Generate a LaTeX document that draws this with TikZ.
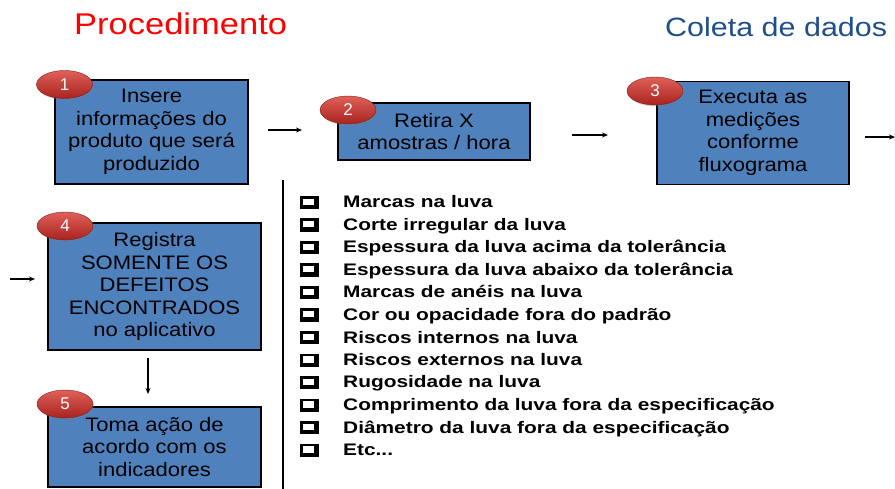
\documentclass[tikz,border=0pt]{standalone}
\usepackage{fontspec}
\setmainfont{Liberation Sans}
\newfontfamily\boxfont[FakeStretch=1.13]{Liberation Sans}
\newfontfamily\listfont[FakeStretch=1.25]{Liberation Sans Bold}
\newfontfamily\titlefont[FakeStretch=1.15]{Liberation Sans}
\usetikzlibrary{shapes.geometric,arrows.meta,shadows}
\definecolor{boxblue}{HTML}{4F81BD}
\definecolor{titleblue}{HTML}{1F4E8C}
\definecolor{badgetop}{HTML}{E0605A}
\definecolor{badgebot}{HTML}{A8231E}
\begin{document}
\begin{tikzpicture}[x=1pt,y=-1pt,
 stepbox/.style={draw=black, line width=1.5pt, fill=boxblue, align=center, inner sep=0pt, font=\boxfont\fontsize{19.5}{22.5}\selectfont},
 badge/.style={ellipse, minimum width=56pt, minimum height=28pt, inner sep=0pt, top color=badgetop, bottom color=badgebot, draw=badgebot!80!black, line width=0.4pt, text=white, font=\fontsize{17}{17}\selectfont, drop shadow={shadow xshift=1pt, shadow yshift=-1.5pt, opacity=0.35}},
 flow/.style={line width=1.2pt, -{Stealth[length=6pt,width=5pt]}},
 item/.style={anchor=base west, inner sep=0pt, font=\listfont\fontsize{16.7}{16.7}\selectfont},
 title/.style={anchor=base west, inner sep=0pt}
]
\path[use as bounding box] (0,0) rectangle (895,489);

% titles
\node[title, text=red, font=\titlefont\fontsize{30}{30}\selectfont] (t1) at (74,35) {Procedimento};
\node[title, text=titleblue, font=\titlefont\fontsize{26.5}{26.5}\selectfont] (t2) at (665,37) {Coleta de dados};

% step boxes
\node[stepbox, minimum width=193pt, minimum height=104pt] (b1) at (151.5,132) {Insere\\informações do\\produto que será\\produzido};
\node[badge] (n1) at (64.5,84.5) {1};
\node[stepbox, minimum width=192pt, minimum height=57pt] (b2) at (434,131.5) {Retira X\\amostras / hora};
\node[badge] (n2) at (348,110) {2};
\node[stepbox, minimum width=192pt, minimum height=103pt] (b3) at (753,133) {Executa as\\medições\\conforme\\fluxograma};
\node[badge] (n3) at (655,91) {3};
\node[stepbox, minimum width=213pt, minimum height=127pt] (b4) at (154.5,286.5) {Registra\\SOMENTE OS\\DEFEITOS\\ENCONTRADOS\\no aplicativo};
\node[badge] (n4) at (65,226) {4};
\node[stepbox, minimum width=213pt, minimum height=80pt] (b5) at (154.5,447) {Toma ação de\\acordo com os\\indicadores};
\node[badge] (n5) at (65,404) {5};

% arrows
\coordinate (a1s) at (268,130); \coordinate (a1e) at (302,130);
\coordinate (a2s) at (572,135); \coordinate (a2e) at (608,135);
\coordinate (a3s) at (865,137); \coordinate (a3e) at (895,137);
\coordinate (a4s) at (10,279);  \coordinate (a4e) at (35,279);
\coordinate (a5s) at (148,358); \coordinate (a5e) at (148,394);
\draw[flow] (a1s) -- (a1e);
\draw[flow] (a2s) -- (a2e);
\draw[flow] (a3s) -- (a3e);
\draw[flow] (a4s) -- (a4e);
\draw[flow] (a5s) -- (a5e);

% divider
\coordinate (vtop) at (283,180); \coordinate (vbot) at (283,489);
\draw[line width=1.5pt] (vtop) -- (vbot);

% checklist
\foreach \t [count=\i from 0] in {{Marcas na luva}, {Corte irregular da luva}, {Espessura da luva acima da tolerância}, {Espessura da luva abaixo da tolerância}, {Marcas de anéis na luva}, {Cor ou opacidade fora do padrão}, {Riscos internos na luva}, {Riscos externos na luva}, {Rugosidade na luva}, {Comprimento da luva fora da especificação}, {Diâmetro da luva fora da especificação}, {Etc{.}{.}{.}}} {
 \pgfmathsetmacro\yb{208+22.5*\i}
 \fill[black] (300,\yb-12) rectangle (318.5,\yb+1.2);
 \fill[white] (302.8,\yb-9.3) rectangle (313.5,\yb-3);
 \node[item] (c\i) at (343,\yb) {\t};
}
\end{tikzpicture}
\end{document}
